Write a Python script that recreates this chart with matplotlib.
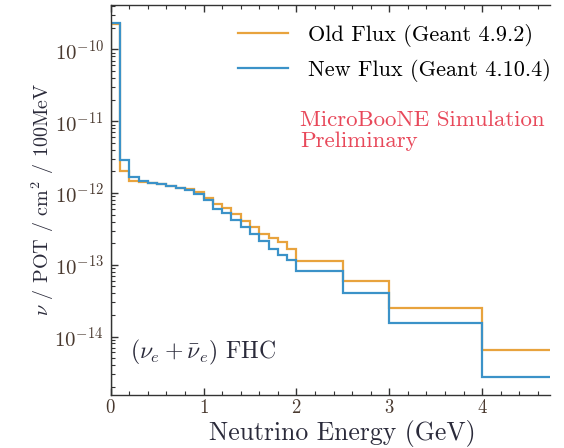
import numpy as np
import matplotlib
matplotlib.use("Agg")
import matplotlib.pyplot as plt
from matplotlib.ticker import FixedLocator, LogLocator, MultipleLocator, NullFormatter

plt.rcParams["font.family"] = "serif"
plt.rcParams["font.serif"] = ["cmr10", "DejaVu Serif"]
plt.rcParams["mathtext.fontset"] = "cm"
plt.rcParams["axes.formatter.use_mathtext"] = True

# Bin edges (GeV)
edges = [0.0, 0.1, 0.2, 0.3, 0.4, 0.5, 0.6, 0.7, 0.8, 0.9, 1.0,
         1.1, 1.2, 1.3, 1.4, 1.5, 1.6, 1.7, 1.8, 1.9, 2.0,
         2.5, 3.0, 4.0, 5.0]

# Flux per bin
old_flux = [2.24e-10, 2.03e-12, 1.48e-12, 1.41e-12, 1.36e-12, 1.32e-12, 1.26e-12,
            1.185e-12, 1.126e-12, 1.03e-12, 8.52e-13, 7.03e-13, 6.12e-13, 5.09e-13,
            4.10e-13, 3.36e-13, 2.68e-13, 2.38e-13, 2.07e-13, 1.64e-13, 1.14e-13,
            5.94e-14, 2.47e-14, 6.49e-15]
new_flux = [2.37e-10, 2.88e-12, 1.67e-12, 1.47e-12, 1.38e-12, 1.33e-12, 1.27e-12,
            1.185e-12, 1.09e-12, 0.968e-12, 7.99e-13, 5.98e-13, 5.21e-13, 4.14e-13,
            3.41e-13, 2.64e-13, 2.14e-13, 1.66e-13, 1.37e-13, 1.15e-13, 8.18e-14,
            4.0e-14, 1.53e-14, 2.75e-15]
y_ticks = [1e-14, 1e-13, 1e-12, 1e-11, 1e-10]

old_color = "#e8a33d"
new_color = "#3b92c8"

fig = plt.figure(figsize=(5.64, 4.48), dpi=100)
# picture is cut at about 4.73 GeV, so no right spine
ax = fig.add_axes([110.7 / 564, 1 - 395 / 448, (550 - 110.7) / 564, 390 / 448])

ax.stairs(old_flux, edges, color=old_color, lw=1.6, label="Old Flux (Geant 4.9.2)")
ax.stairs(new_flux, edges, color=new_color, lw=1.6, label="New Flux (Geant 4.10.4)")

ax.set_yscale("log")
ax.set_xlim(0, 4.73)
ax.set_ylim(1.53e-15, 4.17e-10)

ax.xaxis.set_major_locator(MultipleLocator(1))
ax.xaxis.set_minor_locator(MultipleLocator(0.2))
ax.yaxis.set_major_locator(FixedLocator(y_ticks))
ax.yaxis.set_minor_locator(LogLocator(base=10, subs=np.arange(2, 10), numticks=20))
ax.yaxis.set_minor_formatter(NullFormatter())

ax.spines["right"].set_visible(False)
for s in ax.spines.values():
    s.set_linewidth(1.0)
    s.set_color("#333333")
ax.tick_params(which="both", direction="in", top=True, right=False, colors="#333333",
               labelcolor="#4a3a30")
ax.tick_params(which="major", length=5, width=1)
ax.tick_params(which="minor", length=3, width=0.8)
ax.tick_params(axis="x", pad=3, labelsize=13.5)
ax.tick_params(axis="y", pad=5, labelsize=15)

ax.set_xlabel("Neutrino Energy (GeV)", fontsize=18.5, color="#2a2a3a")
ax.xaxis.set_label_coords((342 - 110.7) / 439.3, -0.064)
ax.set_ylabel(r"$\nu$ / POT / cm$^2$ / 100MeV", fontsize=14.5, color="#2a2a3a")
ax.yaxis.set_label_coords(-0.124, 0.503)

ax.legend(loc="upper left", bbox_to_anchor=(238 / 564, 1 - 24 / 448),
          bbox_transform=fig.transFigure, frameon=False, fontsize=16,
          handlelength=2.25, handletextpad=0.9, labelspacing=0.55,
          borderaxespad=0, borderpad=0)

ax.text(300 / 564, 1 - 130.5 / 448, "MicroBooNE Simulation\nPreliminary",
        transform=fig.transFigure, color="#e8485a", fontsize=16.5,
        va="center", ha="left", linespacing=1.1)
ax.text(130 / 564, 1 - 352 / 448, r"$(\nu_e + \bar{\nu}_e)$ FHC",
        transform=fig.transFigure, color="#2a2a3a", fontsize=17,
        va="center", ha="left")

fig.savefig("out.png", dpi=100)
